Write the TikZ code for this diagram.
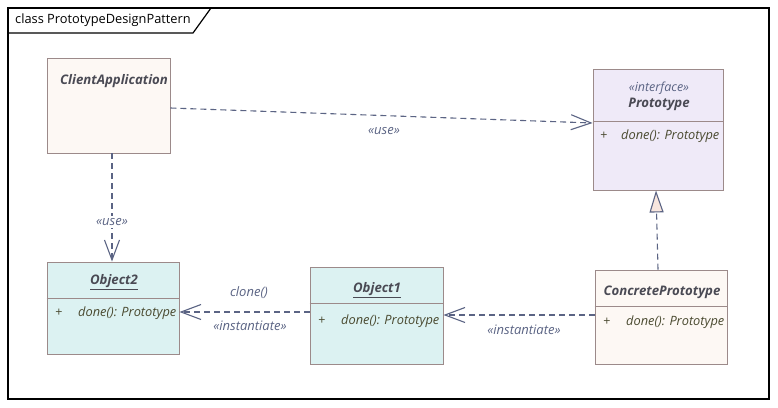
\documentclass[tikz,border=0pt]{standalone}
\usepackage{fontspec}
\setmainfont{Open Sans}
\usetikzlibrary{arrows.meta}
\definecolor{boxline}{HTML}{9C8A8A}
\definecolor{clientfill}{HTML}{FDF8F4}
\definecolor{protofill}{HTML}{EFEAF8}
\definecolor{objfill}{HTML}{DCF2F2}
\definecolor{conn}{HTML}{5B6484}
\definecolor{titletext}{HTML}{4A4A54}
\definecolor{methtext}{HTML}{4A4A30}
\definecolor{trifill}{HTML}{F8E6DE}
\begin{document}
\begin{tikzpicture}[x=1pt,y=-1pt,
  classbox/.style={draw=boxline, line width=0.9pt, rectangle, inner sep=0pt},
  divline/.style={draw=boxline, line width=0.9pt},
  ctitle/.style={font=\fontsize{13.2}{15}\selectfont\bfseries\itshape, text=titletext, inner sep=0pt},
  stereo/.style={font=\fontsize{12.5}{14}\selectfont\itshape, text=conn, inner sep=0pt},
  meth/.style={font=\fontsize{12.8}{14}\selectfont\itshape, text=methtext, inner sep=0pt, anchor=west},
  plus/.style={font=\fontsize{12.5}{14}\selectfont, text=methtext, inner sep=0pt},
  lbl/.style={font=\fontsize{13}{14}\selectfont\itshape, text=conn, inner sep=0pt},
  dep/.style={draw=conn, line width=1.1pt, dash pattern=on 6pt off 4pt, -{Straight Barb[length=20pt,width=15pt,line width=1.1pt]}},
  real/.style={draw=conn, line width=1.1pt, dash pattern=on 6pt off 4pt, -{Triangle[length=22pt,width=14pt,fill=trifill,line width=1.1pt]}}
]
\useasboundingbox (0,0) rectangle (778,407);
\fill[white] (0,0) rectangle (778,407);
% frame
\draw[black, line width=1.2pt] (8,8) rectangle (769,399);
\draw[black, line width=1.2pt] (8,33) -- (193,33) -- (211,8);
\node[anchor=west, inner sep=0pt, font=\fontsize{12.8}{15}\selectfont] (frametitle) at (15,20.5) {class PrototypeDesignPattern};

% ClientApplication
\node[classbox, fill=clientfill, minimum width=123pt, minimum height=95pt] (client) at (108.5,105.5) {};
\node[ctitle] (clientname) at (114,81) {ClientApplication};

% Prototype
\node[classbox, fill=protofill, minimum width=130pt, minimum height=121pt] (proto) at (658,129.5) {};
\draw[divline] (proto.west |- 0,121) -- (proto.east |- 0,121);
\node[stereo] (protostereo) at (659,88) {«interface»};
\node[ctitle] (protoname) at (659,104) {Prototype};
\node[plus] (protoplus) at (604,136) {+};
\node[meth] (protometh) at (621,136) {done(): Prototype};

% Object2
\node[classbox, fill=objfill, minimum width=132pt, minimum height=92pt] (obj2) at (113,308) {};
\draw[divline] (obj2.west |- 0,298) -- (obj2.east |- 0,298);
\node[ctitle] (obj2name) at (114,282) {\underline{Object2}};
\node[plus] (obj2plus) at (59,313) {+};
\node[meth] (obj2meth) at (78,313) {done(): Prototype};

% Object1
\node[classbox, fill=objfill, minimum width=133pt, minimum height=97pt] (obj1) at (376.5,315.5) {};
\draw[divline] (obj1.west |- 0,303) -- (obj1.east |- 0,303);
\node[ctitle] (obj1name) at (377,290) {\underline{Object1}};
\node[plus] (obj1plus) at (322,321) {+};
\node[meth] (obj1meth) at (341,321) {done(): Prototype};

% ConcretePrototype
\node[classbox, fill=clientfill, minimum width=132pt, minimum height=94pt] (conc) at (661,317) {};
\draw[divline] (conc.west |- 0,306) -- (conc.east |- 0,306);
\node[ctitle] (concname) at (662,292) {ConcretePrototype};
\node[plus] (concplus) at (607,322) {+};
\node[meth] (concmeth) at (626,322) {done(): Prototype};

% connectors
\draw[dep] (client.east |- 0,108) -- (proto.west |- 0,123);
\node[lbl] (use1) at (384,131) {«use»};
\draw[dep] (client.south -| 112,0) -- (obj2.north -| 112,0);
\node[lbl, fill=white, inner sep=2pt] (use2) at (112,222) {«use»};
\draw[dep] (obj1.west |- 0,312) -- (obj2.east |- 0,312);
\node[lbl] (clonelbl) at (249,293) {clone()};
\node[lbl] (inst1) at (250,326) {«instantiate»};
\draw[dep] (conc.west |- 0,315) -- (obj1.east |- 0,315);
\node[lbl] (inst2) at (524,330) {«instantiate»};
\draw[real] (conc.north -| 658,0) -- (proto.south -| 656,0);
\end{tikzpicture}
\end{document}
